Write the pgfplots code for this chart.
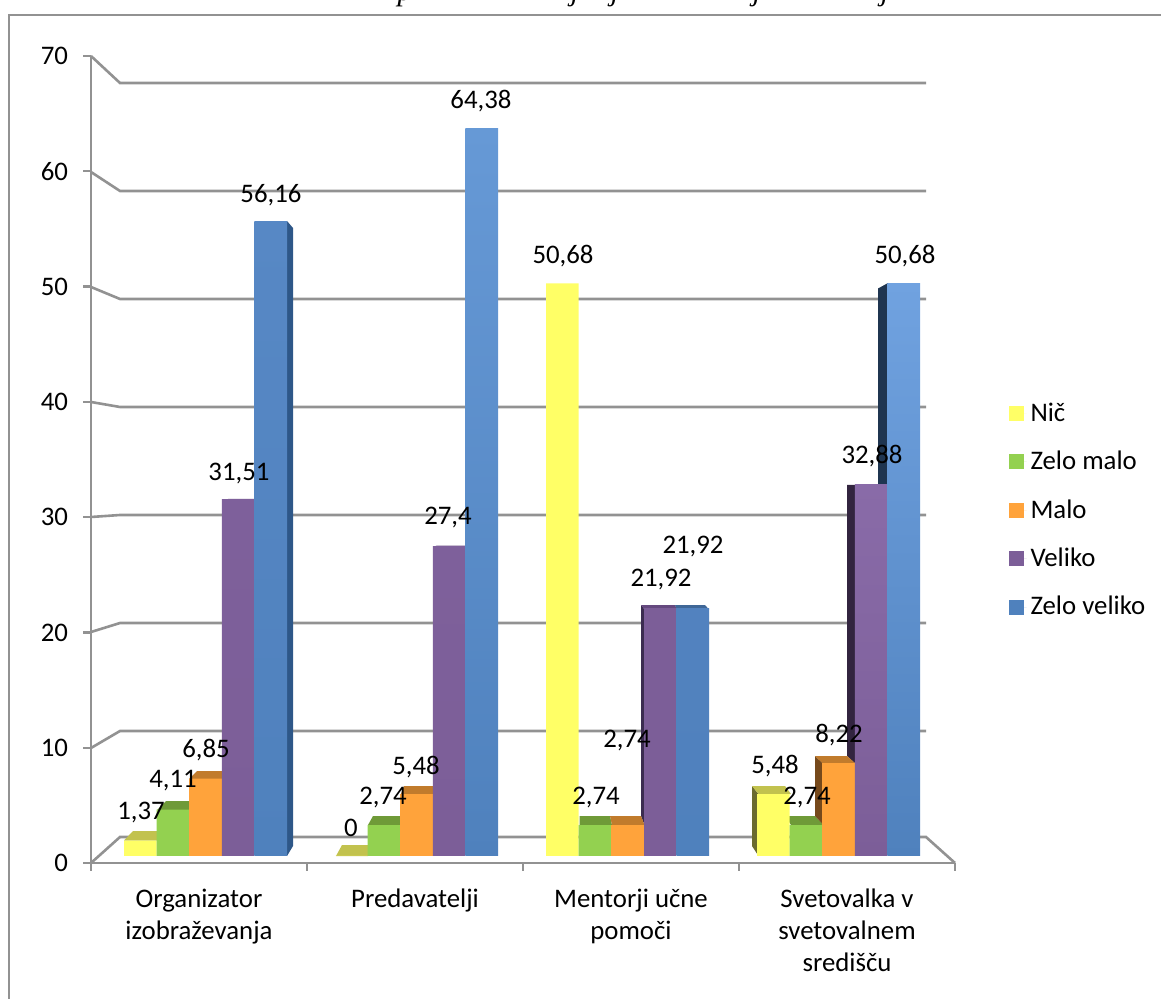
\documentclass[border=0pt]{standalone}
\usepackage{fontspec}
\usepackage{pgfplots}
\pgfplotsset{compat=1.18}
\setmainfont{Carlito}
\newfontfamily\headfont[ItalicFont={Liberation Serif Italic}]{Liberation Serif}

% Colours of the fronts, the lit tops and the shaded sides
\definecolor{cNic}{HTML}{FFFF66}
\definecolor{cZmalo}{HTML}{93D150}
\definecolor{cMalo}{HTML}{FFA33B}
\definecolor{cVel}{HTML}{7C5E98}
\definecolor{cZvel}{HTML}{4F81BD}
\definecolor{tNic}{HTML}{C2C24E}
\definecolor{tZmalo}{HTML}{6F9A38}
\definecolor{tMalo}{HTML}{C17B2C}
\definecolor{tVel}{HTML}{65497F}
\definecolor{tZvel}{HTML}{3F6797}
\definecolor{sNic}{HTML}{6B6B2E}
\definecolor{sMalo}{HTML}{76491B}
\definecolor{sVel}{HTML}{32243F}
\definecolor{sVelB}{HTML}{3B2C50}
\definecolor{sZvel}{HTML}{1F3550}
\definecolor{sZvelB}{HTML}{2E5788}
\definecolor{wall}{HTML}{929292}
% Lighter tops of the tall bars
\definecolor{hVelA}{HTML}{7E609B}
\definecolor{hVelD}{HTML}{896BA8}
\definecolor{hZvelA}{HTML}{5788C5}
\definecolor{hZvelB}{HTML}{6699D6}
\definecolor{hZvelC}{HTML}{5282BF}
\definecolor{hZvelD}{HTML}{70A2E0}

% Every axis below shares a scale of 0.5pt for one unit of the drawing plane
\pgfplotsset{
  plane/.style={
    at={(0,0)}, anchor=south west, scale only axis,
    width=580.5pt, height=499.5pt,
    xmin=0, xmax=1161, ymin=0, ymax=999, y dir=reverse,
    hide axis, clip=false
  },
  wallline/.style={draw=wall, line width=1.3pt, forget plot, mark=none},
  bar/.style={ybar, bar width=16.3pt, bar shift=#1*16.3pt, draw=none, forget plot}
}
\newcommand{\chartfont}{\fontsize{13.4}{16}\selectfont}
\newcommand{\facet}[2]{\addplot[fill=#1, draw=none, forget plot, mark=none] coordinates {#2} --cycle;}
\newcommand{\val}[3]{\node[font=\chartfont, inner sep=0pt] at (axis cs:#1,#2) {#3};}

\begin{document}
\begin{tikzpicture}
\path[use as bounding box, clip] (0,0) rectangle (580.5pt,499.5pt);

% Chart frame, back wall and floor, with the tops and sides of the bars
\begin{axis}[plane]
  \addplot[draw=wall, line width=1.2pt, forget plot] coordinates {(9,999) (9,15) (1161,15)};
  \addplot[wallline] coordinates {(91,56) (120,83) (926,83)};
  \addplot[wallline] coordinates {(91,172) (120,191) (926,191)};
  \addplot[wallline] coordinates {(91,287) (120,299) (926,299)};
  \addplot[wallline] coordinates {(91,402) (120,407) (926,407)};
  \addplot[wallline] coordinates {(91,517) (120,515) (926,515)};
  \addplot[wallline] coordinates {(91,632) (120,623) (926,623)};
  \addplot[wallline] coordinates {(91,748) (120,731) (926,731)};
  \addplot[wallline] coordinates {(91,863) (120,837) (926,837) (955,863)};

  % Organizator izobrazevanja
  \facet{tNic}{(124,840.5) (157,840.5) (166,831) (133,831)}
  \facet{tZmalo}{(157,810) (189,810) (198,801) (166,801)}
  \facet{tMalo}{(189,779) (222,779) (231,771) (197,771)}
  \facet{tVel}{(222,500.5) (254,500.5) (259,499) (228,499)}
  \facet{sZvelB}{(287,221) (293,228) (293,846) (287,856)}
  % Predavatelji
  \facet{tNic}{(336,856) (368,856) (372,845) (342,845)}
  \facet{tZmalo}{(368,825) (401,825) (401,816) (373,816)}
  \facet{tMalo}{(401,794) (433,794) (433,786) (404,786)}
  \facet{tVel}{(433,547) (466,547) (468,545.5) (437,545.5)}
  % Mentorji ucne pomoci
  \facet{tZmalo}{(579.7,825) (612,825) (610,816) (579.7,816)}
  \facet{sVelB}{(641,605) (644.5,609.5) (644.5,825) (641,816)}
  \facet{tMalo}{(612,825) (644.5,825) (641,816) (610,816)}
  \facet{tVel}{(644.5,609.5) (677,609.5) (675,605) (641,605)}
  \facet{tZvel}{(677,609.5) (709,609.5) (705,605) (675,605)}
  % Svetovalka v svetovalnem sredi\v{s}\v{c}u
  \facet{sZvel}{(878,288.5) (888,283) (888,485) (878,485)}
  \facet{sVel}{(847,485) (856,485) (856,764) (847,756)}
  \facet{tZmalo}{(791,825) (823.5,825) (815,816) (785,816)}
  \facet{sMalo}{(815,756) (823.5,764) (823.5,825) (815,816)}
  \facet{tMalo}{(823.5,764) (856,764) (847,756) (815,756)}
  \facet{sNic}{(752,786) (758.5,794) (758.5,856) (752,846)}
  \facet{tNic}{(758.5,794) (791,794) (785,786) (752,786)}
\end{axis}

% Value axis and category axis at the front of the floor
\begin{axis}[
  at={(45.5pt,68pt)}, anchor=south west, scale only axis,
  width=432pt, height=403.5pt,
  xmin=0, xmax=4, ymin=0, ymax=70,
  axis x line=bottom, axis y line=left,
  axis line style={draw=wall, line width=1.3pt, -},
  tick style={draw=wall, line width=1.1pt},
  major x tick style={draw=none},
  tick align=outside, major tick length=4pt, minor tick length=4pt,
  ytick={0,10,...,70},
  xtick={0.5,1.5,2.5,3.5},
  minor xtick={0,1,2,3,4},
  xticklabels={{Organizator\\izobraževanja},{Predavatelji},{Mentorji učne\\pomoči},{Svetovalka v\\svetovalnem\\središču}},
  x tick label style={align=center, font=\chartfont, anchor=north, yshift=-5.5pt},
  y tick label style={font=\chartfont, xshift=-4pt},
  /pgf/number format/assume math mode=true,
  clip=false
]
\end{axis}

% The front faces of the bars, drawn from the percentages
\begin{axis}[
  at={(45.5pt,71.5pt)}, anchor=south west, scale only axis,
  width=432pt, height=395.5pt,
  xmin=-0.5427, xmax=3.552, ymin=0, ymax=70,
  hide axis, clip=false,
  legend cell align=left,
  legend style={
    at={(1.0626,0.578)}, anchor=north west, draw=none, fill=none,
    inner sep=0pt, outer sep=0pt,
    font=\chartfont, row sep=9.4pt
  },
  legend image code/.code={
    \path[#1, draw=none] (0pt,-3.75pt) rectangle (7.5pt,3.75pt);
    \path[draw=none] (0pt,0pt) -- (8.7pt,0pt);
  }
]
  \addplot[bar=-2, fill=cNic] coordinates {(0,1.37) (1,0) (2,50.68) (3,5.48)};
  \addplot[bar=-1, fill=cZmalo] coordinates {(0,4.11) (1,2.74) (2,2.74) (3,2.74)};
  \addplot[bar=0, fill=cMalo] coordinates {(0,6.85) (1,5.48) (2,2.74) (3,8.22)};
  % Veliko and Zelo veliko lighten upwards, more so on the taller bars
  \addplot[bar=1, bottom color=cVel, top color=hVelA] coordinates {(0,31.51)};
  \addplot[bar=1, bottom color=cVel, top color=hVelA] coordinates {(1,27.4)};
  \addplot[bar=1, fill=cVel] coordinates {(2,21.92)};
  \addplot[bar=1, bottom color=cVel, top color=hVelD] coordinates {(3,32.88)};
  \addplot[bar=2, bottom color=cZvel, top color=hZvelA] coordinates {(0,56.16)};
  \addplot[bar=2, bottom color=cZvel, top color=hZvelB] coordinates {(1,64.38)};
  \addplot[bar=2, bottom color=cZvel, top color=hZvelC] coordinates {(2,21.92)};
  \addplot[bar=2, bottom color=cZvel, top color=hZvelD] coordinates {(3,50.68)};
  \addlegendimage{fill=cNic}\addlegendentry{Nič}
  \addlegendimage{fill=cZmalo}\addlegendentry{Zelo malo}
  \addlegendimage{fill=cMalo}\addlegendentry{Malo}
  \addlegendimage{fill=cVel}\addlegendentry{Veliko}
  \addlegendimage{fill=cZvel}\addlegendentry{Zelo veliko}
\end{axis}

% Value labels above the bars and the heading cut by the top edge
\begin{axis}[plane]
  \val{141}{813}{1,37}
  \val{173}{781}{4,11}
  \val{206}{750}{6,85}
  \val{239}{474}{31,51}
  \val{271}{195}{56,16}
  \val{351}{828}{0}
  \val{383}{798}{2,74}
  \val{416}{767}{5,48}
  \val{448}{518}{27,4}
  \val{481}{101}{64,38}
  \val{563}{256}{50,68}
  \val{596}{798}{2,74}
  \val{627}{741}{2,74}
  \val{661}{580}{21,92}
  \val{693}{547}{21,92}
  \val{775}{766}{5,48}
  \val{807}{798}{2,74}
  \val{839}{735}{8,22}
  \val{872}{456}{32,88}
  \val{905}{256}{50,68}
  \node[anchor=base, inner sep=0pt, font=\headfont\itshape\fontsize{15}{18}\selectfont] at (axis cs:405,1) {p};
  \node[anchor=base, inner sep=0pt, font=\headfont\itshape\fontsize{15}{18}\selectfont] at (axis cs:575,1) {j};
  \node[anchor=base, inner sep=0pt, font=\headfont\itshape\fontsize{15}{18}\selectfont] at (axis cs:615,1) {j};
  \node[anchor=base, inner sep=0pt, font=\headfont\itshape\fontsize{15}{18}\selectfont] at (axis cs:757,1) {j};
  \node[anchor=base, inner sep=0pt, font=\headfont\itshape\fontsize{15}{18}\selectfont] at (axis cs:885,1) {j};
\end{axis}
\end{tikzpicture}
\end{document}
